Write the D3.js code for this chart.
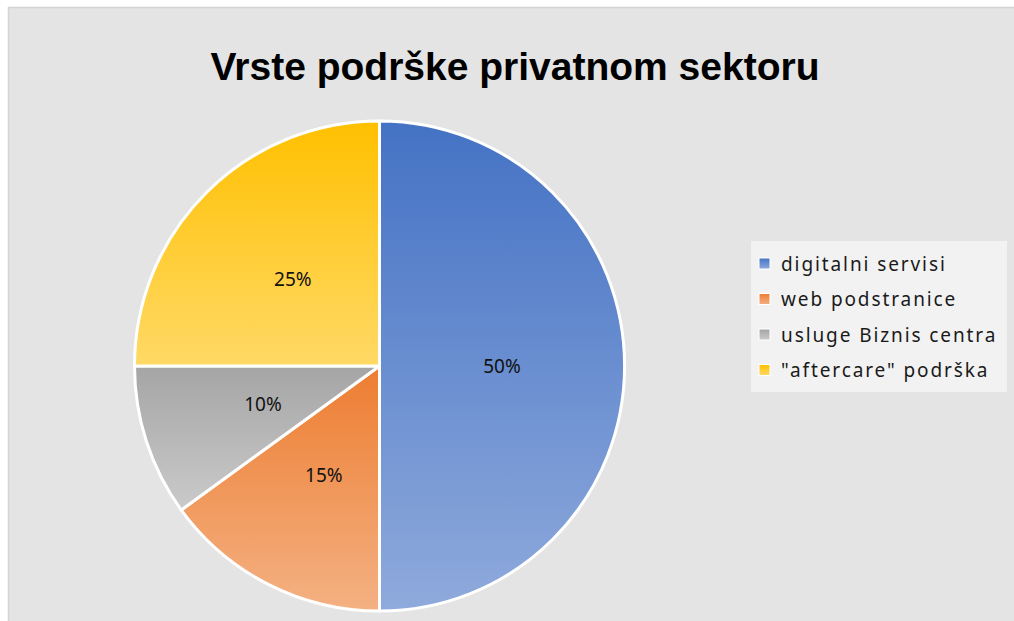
<!DOCTYPE html>
<html>
<head>
<meta charset="utf-8">
<script src="https://cdn.jsdelivr.net/npm/d3@7"></script>
<style>
  body { margin: 0; background: #fff; }
  svg { display: block; }
</style>
</head>
<body>
<div id="chart"></div>
<script>
const categories = ["digitalni servisi", "web podstranice", "usluge Biznis centra", "\"aftercare\" podrška"];
const values = [50, 15, 10, 25];
const labels = ["50%", "15%", "10%", "25%"];
const topColors = ["#4472c4", "#ed7d31", "#a5a5a5", "#ffc000"];
const bottomColors = ["#8faadc", "#f4b183", "#cacaca", "#ffd966"];

const width = 1014, height = 621;
const cx = 379.5, cy = 366, r = 245;

const svg = d3.select("#chart").append("svg").attr("width", width).attr("height", height);

// chart area
svg.append("rect").attr("x", 8.5).attr("y", 7.5).attr("width", width).attr("height", height)
  .attr("fill", "#e4e4e4").attr("stroke", "#d4d4d4").attr("stroke-width", 1.5);

const defs = svg.append("defs");
categories.forEach((c, i) => {
  const g = defs.append("linearGradient").attr("id", "grad" + i)
    .attr("x1", 0).attr("y1", 0).attr("x2", 0).attr("y2", 1);
  g.append("stop").attr("offset", "0%").attr("stop-color", topColors[i]);
  g.append("stop").attr("offset", "100%").attr("stop-color", bottomColors[i]);
});

svg.append("text").attr("x", 515).attr("y", 80).attr("text-anchor", "middle")
  .attr("font-family", "Liberation Sans, Arial, sans-serif").attr("font-weight", "bold")
  .attr("font-size", 39).attr("fill", "#000").text("Vrste podrške privatnom sektoru");

const pie = d3.pie().sort(null).value(d => d.value);
const arc = d3.arc().innerRadius(0).outerRadius(r);
const data = pie(categories.map((c, i) => ({ name: c, value: values[i], label: labels[i], i })));

const g = svg.append("g").attr("transform", `translate(${cx},${cy})`);
g.selectAll("path").data(data).enter().append("path")
  .attr("d", arc)
  .attr("fill", d => `url(#grad${d.data.i})`)
  .attr("stroke", "#fff").attr("stroke-width", 3).attr("stroke-linejoin", "round");

g.selectAll("text").data(data).enter().append("text")
  .attr("transform", d => `translate(${arc.centroid(d)})`)
  .attr("text-anchor", "middle").attr("dy", "0.35em")
  .attr("font-family", "Noto Sans, sans-serif").attr("font-size", 19).attr("fill", "#111")
  .text(d => d.data.label);

// legend
const lg = svg.append("g").attr("transform", "translate(751,241)");
lg.append("rect").attr("width", 256).attr("height", 151).attr("fill", "#f2f2f2");
const items = lg.selectAll("g.item").data(categories).enter().append("g")
  .attr("transform", (d, i) => `translate(0,${23 + i * 35.5})`);
items.append("rect").attr("x", 8).attr("y", -6).attr("width", 11).attr("height", 11)
  .attr("fill", (d, i) => `url(#grad${i})`).attr("stroke", "#fff").attr("stroke-width", 1);
items.append("text").attr("x", 30).attr("dy", "0.35em")
  .attr("font-family", "Noto Sans, sans-serif").attr("font-size", 19)
  .attr("letter-spacing", 1.9).attr("fill", "#1a1a1a")
  .text(d => d);
</script>
</body>
</html>
